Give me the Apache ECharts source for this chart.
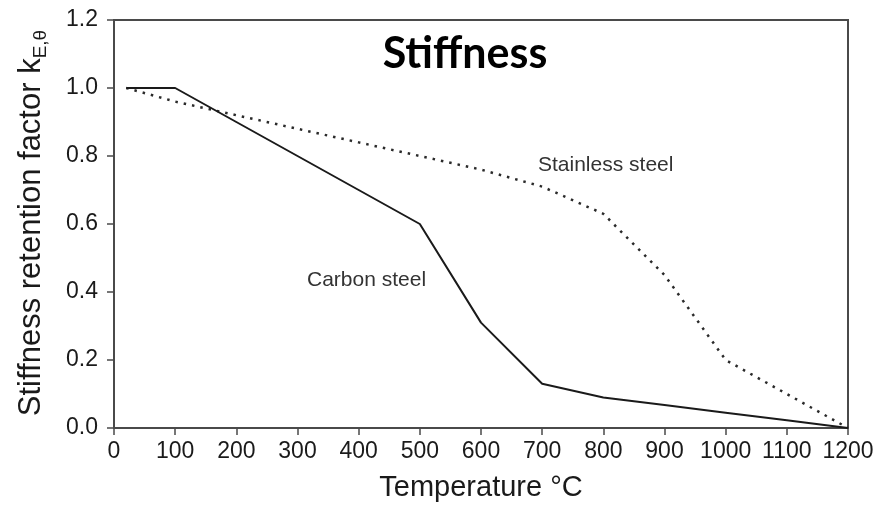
<!DOCTYPE html>
<html>
<head>
<meta charset="utf-8">
<script src="https://cdn.jsdelivr.net/npm/echarts@6/dist/echarts.min.js"></script>
<style>
  html, body { margin: 0; padding: 0; background: #fff; }
  #chart { width: 879px; height: 507px; }
</style>
</head>
<body>
<div id="chart"></div>
<script>
// Temperatures (°C) at which the retention factors are given
const temperatures = [20, 100, 200, 300, 400, 500, 600, 700, 800, 900, 1000, 1100, 1200];
// Elastic modulus retention factor k_E,θ
const carbonSteel    = [1.00, 1.00, 0.90, 0.80, 0.70, 0.60, 0.31, 0.13, 0.09, 0.0675, 0.045, 0.0225, 0.00];
const stainlessSteel = [1.00, 0.96, 0.92, 0.88, 0.84, 0.80, 0.76, 0.71, 0.63, 0.45, 0.20, 0.10, 0.00];
// Axis ticks
const xTicks = [0, 100, 200, 300, 400, 500, 600, 700, 800, 900, 1000, 1100, 1200];
const yTicks = [0.0, 0.2, 0.4, 0.6, 0.8, 1.0, 1.2];

const pairs = (xs, ys) => xs.map((x, i) => [x, ys[i]]);

const chart = echarts.init(document.getElementById('chart'), null, { renderer: 'canvas' });

const axisFont = 'Liberation Sans, Arial, Helvetica, sans-serif';
const frameColor = '#4a4a4a';

chart.setOption({
  animation: false,
  backgroundColor: '#fff',
  grid: {
    left: 114, right: 31, top: 20, bottom: 74,
    show: true, borderColor: frameColor, borderWidth: 2, backgroundColor: 'transparent'
  },
  xAxis: {
    type: 'value',
    min: xTicks[0], max: xTicks[xTicks.length - 1], interval: xTicks[1] - xTicks[0],
    name: 'Temperature °C',
    nameLocation: 'middle',
    nameGap: 45,
    nameTextStyle: { fontFamily: axisFont, fontSize: 29, color: '#1a1a1a' },
    axisLine: { show: true, lineStyle: { color: frameColor, width: 2 } },
    axisTick: { show: true, inside: false, length: 7, lineStyle: { color: frameColor, width: 1.5 } },
    axisLabel: {
      margin: 12, fontFamily: axisFont, fontSize: 23, color: '#1a1a1a',
      formatter: v => String(v)
    },
    splitLine: { show: false }
  },
  yAxis: {
    type: 'value',
    min: yTicks[0], max: yTicks[yTicks.length - 1], interval: yTicks[1] - yTicks[0],
    axisLine: { show: true, lineStyle: { color: frameColor, width: 2 } },
    axisTick: { show: true, inside: false, length: 7, lineStyle: { color: frameColor, width: 1.5 } },
    axisLabel: {
      margin: 16, fontFamily: axisFont, fontSize: 23, color: '#1a1a1a',
      formatter: v => v.toFixed(1)
    },
    splitLine: { show: false }
  },
  series: [
    {
      name: 'Carbon steel',
      type: 'line',
      data: pairs(temperatures, carbonSteel),
      showSymbol: false,
      lineStyle: { color: '#1a1a1a', width: 2 },
      z: 3
    },
    {
      name: 'Stainless steel',
      type: 'line',
      data: pairs(temperatures, stainlessSteel),
      showSymbol: false,
      lineStyle: { color: '#2a2a2a', width: 2.5, type: [2.5, 6] },
      z: 2
    }
  ],
  graphic: [
    {
      type: 'text',
      x: 465, y: 54,
      style: {
        text: 'Stiffness',
        font: 'bold 43px Lato, "Open Sans", sans-serif',
        fill: '#000',
        align: 'center',
        verticalAlign: 'middle'
      }
    },
    {
      type: 'text',
      x: 307, y: 280,
      style: {
        text: 'Carbon steel',
        font: '21px Liberation Sans, Arial, sans-serif',
        fill: '#333',
        align: 'left',
        verticalAlign: 'middle'
      }
    },
    {
      type: 'text',
      x: 538, y: 165,
      style: {
        text: 'Stainless steel',
        font: '21px Liberation Sans, Arial, sans-serif',
        fill: '#333',
        align: 'left',
        verticalAlign: 'middle'
      }
    },
    {
      type: 'text',
      x: 31, y: 223,
      rotation: Math.PI / 2,
      style: {
        text: 'Stiffness retention factor k{sub|E,θ}',
        fontFamily: axisFont,
        fontSize: 31,
        fill: '#1a1a1a',
        align: 'center',
        verticalAlign: 'middle',
        lineHeight: 38,
        rich: {
          sub: {
            fontFamily: axisFont,
            fontSize: 19,
            fill: '#1a1a1a',
            verticalAlign: 'bottom',
            lineHeight: 19
          }
        }
      }
    }
  ]
});
</script>
</body>
</html>
